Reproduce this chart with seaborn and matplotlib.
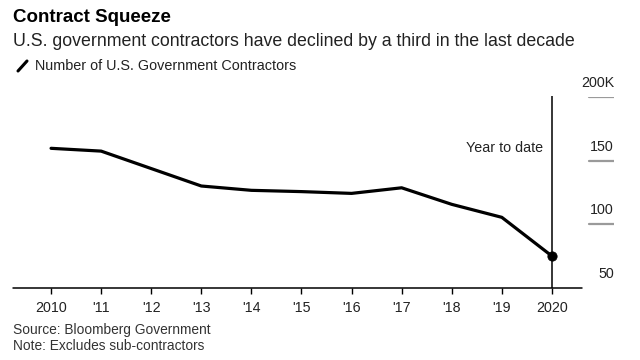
import numpy as np
import pandas as pd
import seaborn as sns
import matplotlib.pyplot as plt
from matplotlib.lines import Line2D

# valores (milhares de contratantes)
years = [2010, 2011, 2012, 2013, 2014, 2015, 2016, 2017, 2018, 2019, 2020]
contractors = [159.7, 157.5, 143.8, 130.1, 126.7, 125.7, 124.3, 128.7, 115.7, 105.5, 75.1]
year_labels = ["2010", "'11", "'12", "'13", "'14", "'15", "'16", "'17", "'18", "'19", "2020"]
y_ticks = [50, 100, 150, 200]
y_labels = ["50", "100", "150", "200K"]

df = pd.DataFrame({"year": years, "contractors": contractors})

sns.set_theme(style="white")
plt.rcParams['font.family'] = ['Liberation Sans', 'DejaVu Sans']

fig = plt.figure(figsize=(6.4, 3.6), dpi=100)
ax = fig.add_axes([13 / 640, 72 / 360, 601 / 640, 191 / 360])

sns.lineplot(data=df, x="year", y="contractors", color="black", linewidth=2.3, ax=ax)
sns.scatterplot(data=df.tail(1), x="year", y="contractors", color="black", s=45,
                edgecolor="black", zorder=5, ax=ax)

ax.set_xlim(2009.24, 2021.24)
ax.set_ylim(50, 200)
for s in ax.spines.values():
    s.set_visible(False)

# eixo inferior e marcas de grade curtas à direita
ax.axhline(50, xmin=0, xmax=0.947, color="black", linewidth=1.1, clip_on=False)
for v, lab in zip(y_ticks, y_labels):
    if v > 50:
        ax.axhline(v, xmin=0.958, xmax=1.0, color="#9a9a9a", linewidth=1.6)
    ax.annotate(lab, xy=(1.0, v), xycoords=("axes fraction", "data"),
                xytext=(0, 5), textcoords="offset points", ha="right", va="bottom",
                fontsize=10.3, color="#222222")

ax.vlines(2020, 50, 200.5, color="black", linewidth=1.1, clip_on=False)
ax.text(2019.82, 160, "Year to date", ha="right", va="center", fontsize=10.3, color="#222222")

ax.set_yticks([])
ax.set_xticks(years)
ax.set_xticklabels(year_labels, fontsize=10.3, color="#222222")
ax.tick_params(axis="x", bottom=True, direction="out", length=4, width=1, color="black", pad=5)
ax.set_xlabel("")
ax.set_ylabel("")

fig.text(13 / 640, 1 - 18 / 360, "Contract Squeeze", fontsize=13.5, fontweight="bold",
         va="center", ha="left", color="black")
fig.text(13 / 640, 1 - 42 / 360, "U.S. government contractors have declined by a third in the last decade",
         fontsize=12.8, va="center", ha="left", color="#222222")
fig.add_artist(Line2D([18 / 640, 27 / 640], [1 - 71 / 360, 1 - 61 / 360], color="black",
                      linewidth=2.2, transform=fig.transFigure))
fig.text(35 / 640, 1 - 66 / 360, "Number of U.S. Government Contractors", fontsize=10.4,
         va="center", ha="left", color="#222222")
fig.text(13 / 640, 1 - 330 / 360, "Source: Bloomberg Government", fontsize=9.9,
         va="center", ha="left", color="#333333")
fig.text(13 / 640, 1 - 346 / 360, "Note: Excludes sub-contractors", fontsize=9.9,
         va="center", ha="left", color="#333333")

fig.savefig("out.png", dpi=100)
